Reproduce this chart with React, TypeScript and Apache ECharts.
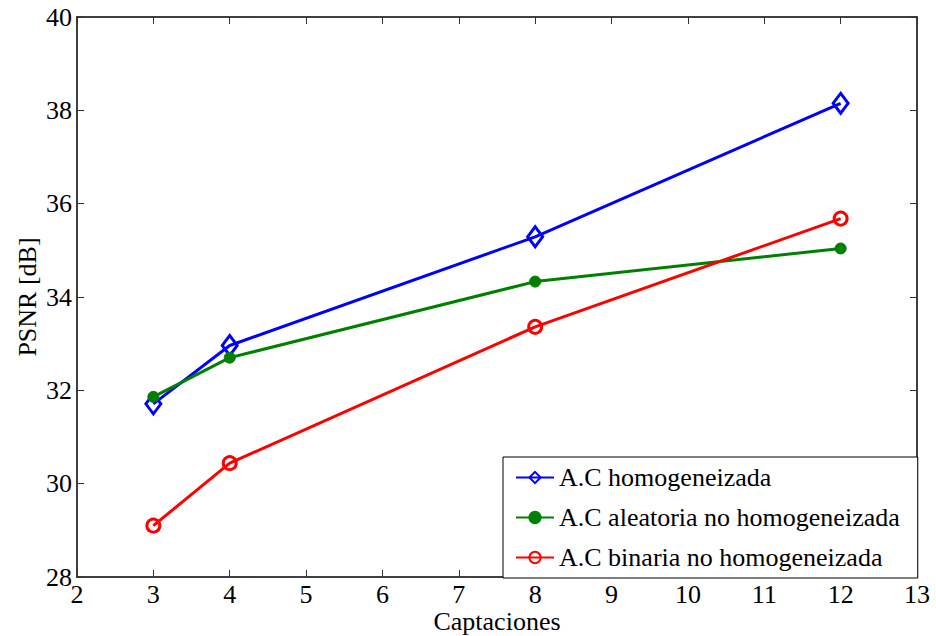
import React, { useEffect, useRef } from "react";
import * as echarts from "echarts";

// Number of acquisitions (captaciones) on the x axis
const captaciones = [3, 4, 8, 12];

// PSNR in dB for each method
const psnrHomogeneizada = [31.71, 32.96, 35.29, 38.15];
const psnrAleatoria = [31.86, 32.7, 34.33, 35.04];
const psnrBinaria = [29.1, 30.44, 33.36, 35.68];

const seriesNames = [
  "A.C homogeneizada",
  "A.C aleatoria no homogeneizada",
  "A.C binaria no homogeneizada",
];

const FONT = "Liberation Serif";
const FS = 26;

const pairs = (ys: number[]) => captaciones.map((x, i) => [x, ys[i]]);

export default function App() {
  const ref = useRef<HTMLDivElement>(null);

  useEffect(() => {
    if (!ref.current) return;
    const chart = echarts.init(ref.current, undefined, { renderer: "svg" });

    const axisLine = { show: true, onZero: false, lineStyle: { color: "#000", width: 1.5 } };
    const axisTick = { show: true, inside: true, length: 7, lineStyle: { color: "#333", width: 1 } };
    const label = { color: "#000", fontFamily: FONT, fontSize: FS };

    chart.setOption({
      animation: false,
      backgroundColor: "#fff",
      textStyle: { fontFamily: FONT, fontSize: FS, color: "#000" },
      grid: {
        left: 77,
        top: 17,
        width: 840,
        height: 560,
        containLabel: false,
        outerBoundsMode: "none",
      },
      xAxis: [
        {
          type: "value",
          min: 2,
          max: 13,
          interval: 1,
          position: "bottom",
          axisLine,
          axisTick,
          splitLine: { show: false },
          axisLabel: { ...label, margin: 6, lineHeight: 22 },
          name: "Captaciones",
          nameLocation: "middle",
          nameGap: 33,
          nameMoveOverlap: false,
          nameTextStyle: { ...label, lineHeight: 22, verticalAlign: "top" },
        },
        {
          type: "value",
          min: 2,
          max: 13,
          interval: 1,
          position: "top",
          axisLine,
          axisTick,
          splitLine: { show: false },
          axisLabel: { show: false },
        },
      ],
      yAxis: [
        {
          type: "value",
          min: 28,
          max: 40,
          interval: 2,
          position: "left",
          axisLine,
          axisTick,
          splitLine: { show: false },
          axisLabel: { ...label, margin: 5 },
        },
        {
          type: "value",
          min: 28,
          max: 40,
          interval: 2,
          position: "right",
          axisLine,
          axisTick,
          splitLine: { show: false },
          axisLabel: { show: false },
        },
      ],
      legend: {
        orient: "vertical",
        left: 503,
        top: 457,
        backgroundColor: "#fff",
        borderColor: "#000",
        borderWidth: 1,
        borderRadius: 0,
        padding: [6, 18, 6, 12],
        itemWidth: 38,
        itemHeight: 14,
        itemGap: 11,
        textStyle: { ...label, lineHeight: 29 },
        data: seriesNames,
      },
      graphic: [
        {
          type: "text",
          x: 27,
          y: 297,
          rotation: Math.PI / 2,
          style: {
            text: "PSNR [dB]",
            font: `${FS}px ${FONT}`,
            fill: "#000",
            textAlign: "center",
            textVerticalAlign: "middle",
          },
        },
      ],
      series: [
        {
          name: seriesNames[0],
          type: "line",
          data: pairs(psnrHomogeneizada),
          lineStyle: { color: "#0000ff", width: 3 },
          symbol: "diamond",
          symbolSize: [15, 20],
          itemStyle: { color: "rgba(0,0,0,0)", borderColor: "#0000ff", borderWidth: 3 },
          z: 2,
        },
        {
          name: seriesNames[1],
          type: "line",
          data: pairs(psnrAleatoria),
          lineStyle: { color: "#008000", width: 3 },
          symbol: "circle",
          symbolSize: 11,
          itemStyle: { color: "#008000", borderColor: "#008000", borderWidth: 1 },
          z: 3,
        },
        {
          name: seriesNames[2],
          type: "line",
          data: pairs(psnrBinaria),
          lineStyle: { color: "#ff0000", width: 3 },
          symbol: "circle",
          symbolSize: 13,
          itemStyle: { color: "rgba(0,0,0,0)", borderColor: "#ff0000", borderWidth: 3 },
          z: 4,
        },
      ],
    });

    return () => chart.dispose();
  }, []);

  return (
    <div
      ref={ref}
      style={{ position: "fixed", left: 0, top: 0, width: 936, height: 636, background: "#fff" }}
    />
  );
}
